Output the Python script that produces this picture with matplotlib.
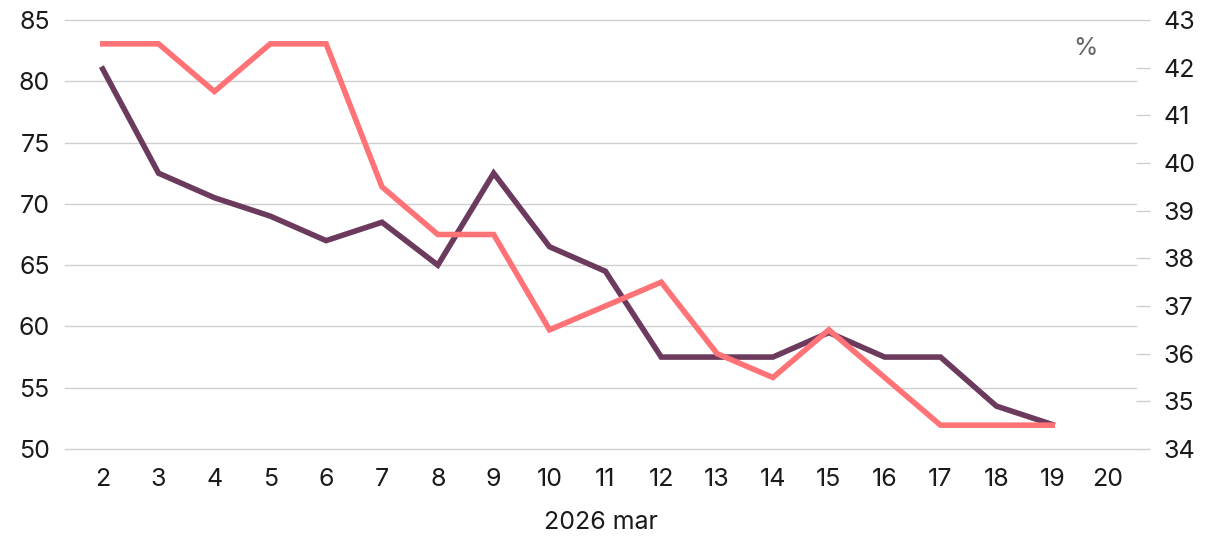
import matplotlib
matplotlib.use("Agg")
import matplotlib.pyplot as plt

plt.rcParams['font.family'] = ['Inter', 'DejaVu Sans']

days = list(range(2, 21))
dark_days = list(range(2, 20))
dark_vals = [81, 72.5, 70.5, 69, 67, 68.5, 65, 72.5, 66.5, 64.5, 57.5, 57.5, 57.5, 59.5, 57.5, 57.5, 53.5, 52]
pink_vals = [42.5, 42.5, 41.5, 42.5, 42.5, 39.5, 38.5, 38.5, 36.5, 37, 37.5, 36, 35.5, 36.5, 35.5, 34.5, 34.5, 34.5]
left_ticks = [50, 55, 60, 65, 70, 75, 80, 85]
right_ticks = list(range(34, 44))
xlabel = "2026 mar"

fig = plt.figure(figsize=(12.14, 5.38), dpi=100)
ax = fig.add_axes([65/1214, 1-449/538, (1136-65)/1214, (449-20)/538])
ax2 = ax.twinx()

txt = '#1a1a1a'
fs = 18
ax.set_xlim(1.325, 20.5)
ax.set_ylim(50, 85)
ax2.set_ylim(34, 43)
ax.set_yticks(left_ticks)
ax2.set_yticks(right_ticks)
ax.set_xticks(days)
ax.set_xticklabels([str(d) for d in days])
ax.grid(axis='y', color='#cfcfcf', linewidth=1.0)
for gl in ax.get_ygridlines():
    gl.set_clip_on(False)
ax.set_axisbelow(True)
for a in (ax, ax2):
    for s in a.spines.values():
        s.set_visible(False)
ax.tick_params(axis='y', length=0, pad=11, labelsize=fs, labelcolor=txt)
ax.tick_params(axis='x', length=0, pad=14, labelsize=fs, labelcolor=txt)
ax2.tick_params(axis='y', length=10, width=1, color='#cfcfcf', pad=10, labelsize=fs, labelcolor=txt)

ax.plot(dark_days, dark_vals, color='#6b3a5c', linewidth=4.0, solid_joinstyle='miter', zorder=3)
ax2.plot(dark_days, pink_vals, color='#ff7276', linewidth=4.0, solid_joinstyle='miter', zorder=2)

ax.set_xlabel(xlabel, fontsize=fs, color=txt, labelpad=14)
ax.text(0.953, 0.933, '%', transform=ax.transAxes, fontsize=fs, color='#666666', ha='center', va='center')

fig.savefig('out.png', dpi=100)
